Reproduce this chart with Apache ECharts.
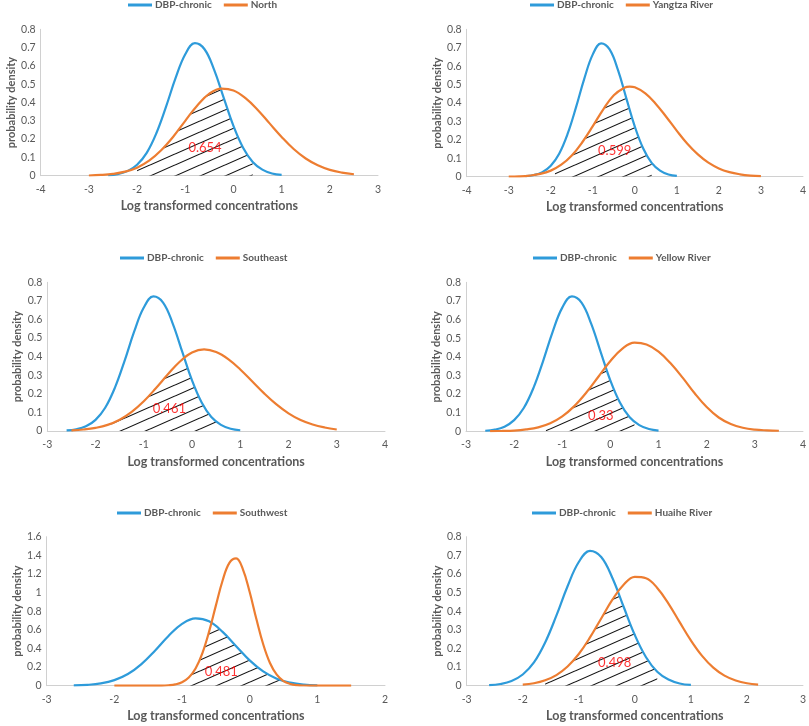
<!DOCTYPE html>
<html>
<head>
<meta charset="utf-8">
<script src="https://cdn.jsdelivr.net/npm/echarts@6/dist/echarts.min.js"></script>
<style>
html,body{margin:0;padding:0;background:#fff;}
#chart{width:809px;height:726px;}
</style>
</head>
<body>
<div id="chart"></div>
<script>
// ---------- data ----------
const dbpX = [-2.6,-2.4,-2.2,-2.0,-1.8,-1.6,-1.4,-1.2,-1.0,-0.8,-0.6,-0.4,-0.2,0,0.2,0.4,0.6,0.8,1.0];
const dbpY = [0.003,0.009,0.025,0.060,0.125,0.232,0.376,0.534,0.664,0.724,0.691,0.578,0.424,0.272,0.153,0.075,0.033,0.012,0.004];

const northX = [-3,-2.75,-2.5,-2.25,-2,-1.75,-1.5,-1.25,-1,-0.75,-0.5,-0.25,0,0.25,0.5,0.75,1,1.25,1.5,1.75,2,2.25,2.5];
const northY = [0.001,0.004,0.010,0.022,0.044,0.082,0.139,0.213,0.300,0.384,0.448,0.476,0.466,0.424,0.361,0.286,0.212,0.146,0.094,0.057,0.032,0.017,0.008];

const yangtzeX = [-3,-2.75,-2.5,-2.25,-2,-1.75,-1.5,-1.25,-1,-0.75,-0.5,-0.25,-0.12,0,0.25,0.5,0.75,1,1.25,1.5,1.75,2,2.25,2.5,2.75,3];
const yangtzeY = [0.001,0.002,0.006,0.015,0.033,0.065,0.115,0.187,0.274,0.366,0.442,0.483,0.489,0.485,0.452,0.395,0.324,0.249,0.179,0.121,0.076,0.045,0.025,0.013,0.006,0.003];

const southeastX = [-2.5,-2.25,-2,-1.75,-1.5,-1.25,-1,-0.75,-0.5,-0.25,0,0.25,0.5,0.75,1,1.25,1.5,1.75,2,2.25,2.5,2.75,3];
const southeastY = [0.003,0.008,0.017,0.033,0.061,0.103,0.160,0.230,0.305,0.374,0.422,0.439,0.425,0.387,0.331,0.266,0.201,0.143,0.095,0.059,0.035,0.019,0.008];

const yellowX = [-2.5,-2.25,-2,-1.75,-1.5,-1.25,-1,-0.75,-0.5,-0.25,0,0.25,0.5,0.75,1,1.25,1.5,1.75,2,2.25,2.5,2.75,3,3.25,3.5];
const yellowY = [0.001,0.002,0.004,0.010,0.021,0.043,0.080,0.135,0.208,0.293,0.377,0.444,0.476,0.466,0.428,0.365,0.288,0.204,0.13,0.074,0.039,0.019,0.009,0.005,0.003];

const southwestX = [-2.0,-1.5,-1.3,-1.2,-1.1,-1.0,-0.9,-0.8,-0.7,-0.6,-0.5,-0.4,-0.3,-0.2,-0.1,0,0.1,0.2,0.3,0.4,0.5,0.6,0.7,0.8,1.0,1.5];
const southwestY = [0,0,0.001,0.005,0.014,0.037,0.088,0.185,0.348,0.581,0.860,1.130,1.319,1.367,1.250,1.006,0.713,0.445,0.244,0.118,0.050,0.019,0.006,0.002,0,0];

const huaiheX = [-2,-1.8,-1.6,-1.4,-1.2,-1,-0.8,-0.6,-0.4,-0.2,0,0.2,0.4,0.6,0.8,1,1.2,1.4,1.6,1.8,2,2.2];
const huaiheY = [0.006,0.013,0.029,0.057,0.103,0.170,0.259,0.361,0.462,0.542,0.584,0.577,0.525,0.441,0.341,0.243,0.160,0.097,0.054,0.028,0.013,0.006];

// hatched overlap regions (upper boundary)
const northHatchX = [-2.0,-1.75,-1.5,-1.25,-1.0,-0.75,-0.5,-0.27,-0.2,-0.1,0,0.2,0.4];
const northHatchY = [0.044,0.082,0.139,0.213,0.300,0.384,0.448,0.474,0.424,0.35,0.272,0.153,0.075];
const yangtzeHatchX = [-1.9,-1.75,-1.5,-1.25,-1.0,-0.75,-0.5,-0.27,-0.2,-0.1,0,0.2,0.4];
const yangtzeHatchY = [0.04,0.065,0.115,0.187,0.274,0.366,0.442,0.477,0.424,0.345,0.272,0.153,0.075];
const southeastHatchX = [-1.67,-1.5,-1.25,-1.0,-0.75,-0.5,-0.25,-0.15,-0.1,0,0.2,0.4,0.5];
const southeastHatchY = [0.05,0.061,0.103,0.16,0.23,0.305,0.374,0.384,0.345,0.272,0.153,0.075,0.05];
const yellowHatchX = [-1.34,-1.25,-1.0,-0.75,-0.5,-0.25,-0.1,0,0.2,0.4,0.5];
const yellowHatchY = [0.035,0.043,0.08,0.135,0.208,0.293,0.345,0.272,0.153,0.075,0.05];
const southwestHatchX = [-1.0,-0.9,-0.8,-0.7,-0.6,-0.56,-0.5,-0.4,-0.2,0,0.2,0.4,0.47];
const southwestHatchY = [0.037,0.088,0.185,0.348,0.581,0.67,0.643,0.578,0.424,0.272,0.153,0.075,0.055];
const huaiheHatchX = [-1.6,-1.4,-1.2,-1.0,-0.8,-0.6,-0.4,-0.3,-0.2,0,0.2,0.4];
const huaiheHatchY = [0.029,0.057,0.103,0.17,0.259,0.361,0.462,0.50,0.424,0.272,0.153,0.075];

const regionNames = ['North','Yangtza River','Southeast','Yellow River','Southwest','Huaihe River'];
const overlapValues = ['0.654','0.599','0.461','0.33','0.481','0.498'];
const overlapLabelX = [-0.59,-0.48,-0.47,-0.2,-0.42,-0.36];
const overlapLabelY = [0.153,0.14,0.122,0.082,0.15,0.123];
const xMins = [-4,-4,-3,-3,-3,-3];
const xMaxs = [3,4,4,4,2,3];
const yMaxs = [0.8,0.8,0.8,0.8,1.6,0.8];
const yIntervals = [0.1,0.1,0.1,0.1,0.2,0.1];

const orangeXs = [northX,yangtzeX,southeastX,yellowX,southwestX,huaiheX];
const orangeYs = [northY,yangtzeY,southeastY,yellowY,southwestY,huaiheY];
const hatchXs = [northHatchX,yangtzeHatchX,southeastHatchX,yellowHatchX,southwestHatchX,huaiheHatchX];
const hatchYs = [northHatchY,yangtzeHatchY,southeastHatchY,yellowHatchY,southwestHatchY,huaiheHatchY];

// ---------- layout ----------
const grids = [
  {left:40.7, top:29.3, width:337.3, height:146.4},
  {left:466.7, top:29.3, width:337.3, height:147.4},
  {left:47.3, top:282.3, width:337.7, height:148.7},
  {left:466, top:282.3, width:338, height:149},
  {left:46.7, top:536.7, width:338.3, height:149},
  {left:466.7, top:536.7, width:337.3, height:149}
];
const legendPos = [[128,0],[530,0],[120,253],[533,253],[117,508],[532,508]];

const BLUE = '#2E9BDA', ORANGE = '#ED7D31', GRAY = '#595959';
const FONT = 'Lato, "Open Sans", sans-serif';

// hatch pattern
const pw = 25, ph = 11;
const pc = document.createElement('canvas');
pc.width = pw; pc.height = ph;
const ctx = pc.getContext('2d');
ctx.strokeStyle = '#111';
ctx.lineWidth = 1.1;
for (let k = -1; k <= 1; k++) {
  ctx.beginPath();
  ctx.moveTo(0, ph + k * ph);
  ctx.lineTo(pw, k * ph);
  ctx.stroke();
}

const zip = (xs, ys) => xs.map((x, i) => [x, ys[i]]);

const xAxis = [], yAxis = [], series = [], legend = [];
for (let i = 0; i < 6; i++) {
  xAxis.push({
    type:'value', gridIndex:i, min:xMins[i], max:xMaxs[i], interval:1,
    axisLine:{show:true, onZero:false, lineStyle:{color:'#d0d0d0', width:1}},
    axisTick:{show:false}, splitLine:{show:false},
    axisLabel:{color:GRAY, fontSize:10.5, margin:8, fontFamily:FONT},
    name:'Log transformed concentrations', nameLocation:'middle', nameGap:24,
    nameTextStyle:{color:GRAY, fontSize:12.5, fontWeight:'bold', fontFamily:FONT}
  });
  yAxis.push({
    type:'value', gridIndex:i, min:0, max:yMaxs[i], interval:yIntervals[i],
    axisLine:{show:true, onZero:false, lineStyle:{color:'#d0d0d0', width:1}},
    axisTick:{show:false}, splitLine:{show:false},
    axisLabel:{color:GRAY, fontSize:10.5, margin:5, fontFamily:FONT,
      formatter: v => String(+v.toFixed(2))},
    name:'probability density', nameLocation:'middle', nameGap:24,
    nameTextStyle:{color:GRAY, fontSize:11, fontWeight:'bold', fontFamily:FONT}
  });
  series.push({
    type:'line', name:'', xAxisIndex:i, yAxisIndex:i,
    data: zip(hatchXs[i], hatchYs[i]), showSymbol:false, symbol:'none',
    lineStyle:{width:0, opacity:0}, silent:true, z:1,
    areaStyle:{color:{image:pc, repeat:'repeat'}, opacity:1}
  });
  series.push({
    type:'line', name:'DBP-chronic', xAxisIndex:i, yAxisIndex:i,
    data: zip(dbpX, dbpY), smooth:0.4, showSymbol:false, symbol:'none',
    lineStyle:{color:BLUE, width:2.2}, itemStyle:{color:BLUE}, z:3
  });
  series.push({
    type:'line', name:regionNames[i], xAxisIndex:i, yAxisIndex:i,
    data: zip(orangeXs[i], orangeYs[i]), smooth:0.4, showSymbol:false, symbol:'none',
    lineStyle:{color:ORANGE, width:2.2}, itemStyle:{color:ORANGE}, z:3
  });
  series.push({
    type:'scatter', name:'', xAxisIndex:i, yAxisIndex:i, silent:true, z:5,
    symbolSize:0,
    data:[[overlapLabelX[i], overlapLabelY[i], overlapValues[i]]],
    label:{show:true, position:'inside', formatter: p => p.value[2],
      color:'#ff0000', fontSize:13, fontFamily:FONT}
  });
  legend.push({
    data:['DBP-chronic', regionNames[i]], left:legendPos[i][0], top:legendPos[i][1],
    padding:0, itemWidth:24, itemHeight:3, icon:'rect', itemGap:12,
    selectedMode:false,
    textStyle:{color:GRAY, fontSize:10, fontWeight:'bold', fontFamily:FONT, padding:[0,0,0,-2]}
  });
}

const chart = echarts.init(document.getElementById('chart'));
chart.setOption({
  animation:false,
  backgroundColor:'#fff',
  textStyle:{fontFamily:FONT},
  grid: grids,
  xAxis, yAxis, series, legend
});
</script>
</body>
</html>
